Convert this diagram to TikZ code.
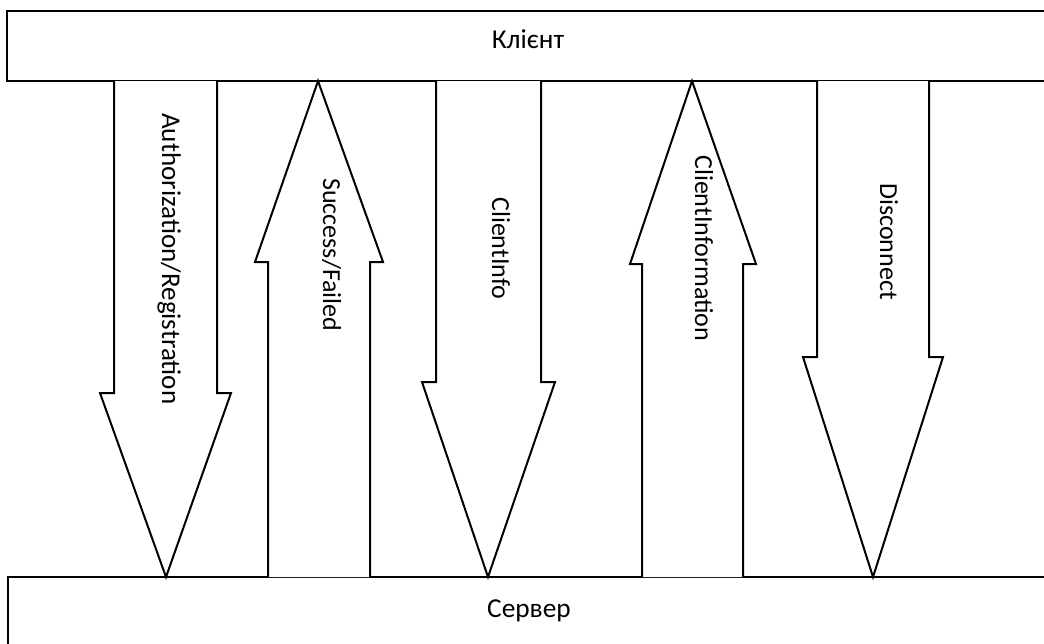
\documentclass[tikz,border=0pt]{standalone}
\usepackage{fontspec}
\setmainfont{Carlito}
\begin{document}
\begin{tikzpicture}[x={(0.75pt,0)}, y={(0,-0.75pt)},
  outline/.style={draw=black, line width=1.5pt, line join=miter, fill=white},
  boxlabel/.style={inner sep=0pt, anchor=base, font=\fontsize{20.5}{24}\selectfont},
  flowlabel/.style={inner sep=0pt, anchor=base west, rotate=-90, font=\fontsize{19.5}{23}\selectfont}]
\useasboundingbox (0,0) rectangle (1044,643);
\clip (0,0) rectangle (1044,643);
\fill[white] (0,0) rectangle (1044,643);

% client and server bars
\draw[outline] (7,11) rectangle (1060,81);
\draw[outline] (8,577) rectangle (1060,660);
\node[boxlabel] (client) at (528,48) {Клієнт};
\node[boxlabel] (server) at (529,617) {Сервер};

% Authorization/Registration (client -> server)
\draw[outline] (114,81) -- (114,393) -- (100,393) -- (166,577) -- (231,393) -- (217,393) -- (217,81);
\node[flowlabel, font=\fontsize{20.3}{24}\selectfont] (auth) at (162,113) {Authorization/Registration};

% Success/Failed (server -> client)
\draw[outline] (268,577) -- (268,262) -- (255,262) -- (318,81) -- (383,262) -- (370,262) -- (370,577);
\node[flowlabel] (result) at (323,178) {Success/Failed};

% ClientInfo (client -> server)
\draw[outline] (436,81) -- (436,382) -- (422,382) -- (488,577) -- (555,382) -- (541,382) -- (541,81);
\node[flowlabel] (cinfo) at (492,197) {ClientInfo};

% ClientInformation (server -> client)
\draw[outline] (642,577) -- (642,264) -- (630,264) -- (692,81) -- (756,264) -- (743,264) -- (743,577);
\node[flowlabel] (cinformation) at (695,155) {ClientInformation};

% Disconnect (client -> server)
\draw[outline] (817,81) -- (817,357) -- (803,357) -- (873,577) -- (943,357) -- (929,357) -- (929,81);
\node[flowlabel] (disc) at (880,183) {Disconnect};
\end{tikzpicture}
\end{document}
